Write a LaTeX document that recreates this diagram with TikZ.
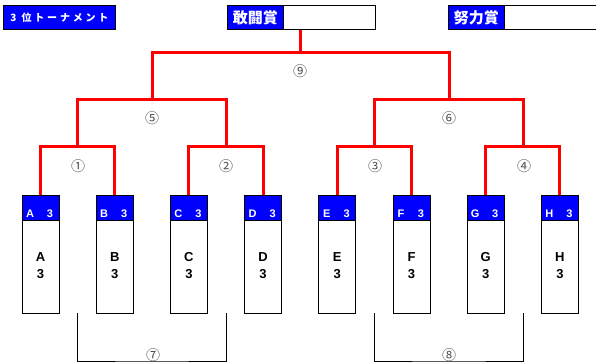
\documentclass[tikz,border=0pt]{standalone}
\usepackage{fontspec}
\setmainfont{Liberation Sans}
\newfontfamily\jp{Noto Sans CJK JP}
\usetikzlibrary{positioning}
\definecolor{mblue}{rgb}{0, 0, 1}
\definecolor{mred}{rgb}{1, 0, 0}
\tikzset{
  titlebox/.style = {draw, line width = 0.9, fill = mblue, text = white, inner sep = 0, minimum height = 24, anchor = north west},
  namebox/.style = {draw, line width = 0.9, inner sep = 0, minimum height = 24, anchor = north west},
  team/.style = {draw, line width = 0.9, inner sep = 0, minimum width = 37, minimum height = 118},
  head/.style = {draw, line width = 0.9, fill = mblue, inner sep = 0, minimum width = 37, minimum height = 25, anchor = north},
  headtext/.style = {text = white, inner sep = 0, font = \bfseries\fontsize{11}{11}\selectfont},
  teamtext/.style = {align = center, inner sep = 0, font = \bfseries\fontsize{13}{17}\selectfont},
  win/.style = {mred, line width = 3},
  lose/.style = {black, line width = 0.9},
  num/.style = {inner sep = 0, text = black!70, font = \jp\fontsize{14}{14}\selectfont}
}

\begin{document}
\begin{tikzpicture}[x = 1pt, y = -1pt]
  \useasboundingbox (0, 0) rectangle (596, 363);

  % titles
  \node [titlebox, minimum width = 112, font = \jp\bfseries\fontsize{10}{10}\selectfont\addfontfeature{LetterSpace = 28}] (third) at (3, 5) {3 位トーナメント};
  \node [titlebox, minimum width = 56, font = \jp\bfseries\fontsize{15}{15}\selectfont] (kanto) at (227, 5) {敢闘賞};
  \node [namebox, minimum width = 92] (kantoname) at (283, 5) {};
  \node [titlebox, minimum width = 56, font = \jp\bfseries\fontsize{15}{15}\selectfont] (doryoku) at (448, 5) {努力賞};
  \node [namebox, minimum width = 92] (doryokuname) at (504, 5) {};

  % teams
  \foreach \t [count = \i] in {A, B, C, D, E, F, G, H} {
    \node [team] (\t) at ({40.5 + 74.2 * (\i - 1)}, 254) {};
    \node [head] (\t-h) at (\t.north) {};
    \node [headtext] at ({30 + 74.2 * (\i - 1)}, 214) {\t};
    \node [headtext] at ({50 + 74.2 * (\i - 1)}, 214) {3};
    \node [teamtext] at ({40.5 + 74.2 * (\i - 1)}, 265.5) {\t\\3};
  }

  \coordinate (m1) at (77, 147);
  \coordinate (m2) at (226.5, 147);
  \coordinate (m3) at (374.5, 147);
  \coordinate (m4) at (523, 147);
  \coordinate (m5) at (152, 100);
  \coordinate (m6) at (449, 100);
  \coordinate (m9) at (300.5, 53);
  \coordinate (m7) at (152, 361);
  \coordinate (m8) at (449, 361);

  \draw [win] (A-h.north) |- (m1) -| (B-h.north);
  \draw [win] (C-h.north) |- (m2) -| (D-h.north);
  \draw [win] (E-h.north) |- (m3) -| (F-h.north);
  \draw [win] (G-h.north) |- (m4) -| (H-h.north);
  \draw [win] (m1) |- (m5) -| (m2);
  \draw [win] (m3) |- (m6) -| (m4);
  \draw [win] (m5) |- (m9) -| (m6);
  \draw [win] (m9) -- (m9 |- kantoname.south);

  \draw [lose] (m1 |- A.south) |- (m7) -| (m2 |- C.south);
  \draw [lose] (m3 |- E.south) |- (m8) -| (m4 |- G.south);

  \node [num] (n1) at (78, 166) {①};
  \node [num] (n2) at (226, 166) {②};
  \node [num] (n3) at (375, 166) {③};
  \node [num] (n4) at (524, 166) {④};
  \node [num] (n5) at (152, 118) {⑤};
  \node [num] (n6) at (449, 118) {⑥};
  \node [num] (n7) at (153, 355) {⑦};
  \node [num] (n8) at (449, 355) {⑧};
  \node [num] (n9) at (300, 71) {⑨};
\end{tikzpicture}
\end{document}
